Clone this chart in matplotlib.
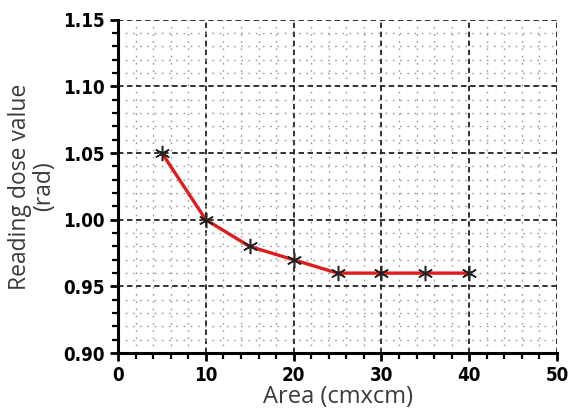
import matplotlib.pyplot as plt
from matplotlib.ticker import MultipleLocator

# data
area = [5, 10, 15, 20, 25, 30, 35, 40]
dose = [1.05, 1.00, 0.98, 0.97, 0.96, 0.96, 0.96, 0.96]

fig = plt.figure(figsize=(5.76, 4.13), dpi=100)
ax = fig.add_axes([0.205, 0.145, 0.762, 0.807])

ax.plot(area, dose, color="#e01b1b", linewidth=2.4, zorder=3)
ax.plot(area, dose, linestyle="none", marker=(6, 2, 0), markersize=11,
        markeredgecolor="#222222", markeredgewidth=1.1, zorder=4)

ax.set_xlim(0, 50)
ax.set_ylim(0.90, 1.15)
ax.xaxis.set_major_locator(MultipleLocator(10))
ax.xaxis.set_minor_locator(MultipleLocator(2))
ax.yaxis.set_major_locator(MultipleLocator(0.05))
ax.yaxis.set_minor_locator(MultipleLocator(0.01))

ax.grid(which="major", color="#222222", linestyle=(0, (3, 2)), linewidth=1.3)
ax.grid(which="minor", color="#9a9a9a", linestyle=(0, (1.2, 4)), linewidth=1.0)

for s in ["top", "right"]:
    ax.spines[s].set_visible(False)
for s in ["left", "bottom"]:
    ax.spines[s].set_linewidth(2.2)

ax.tick_params(which="major", length=6, width=2, direction="out")
ax.tick_params(which="minor", length=4, width=1.6, direction="out")

ax.set_xticks([0, 10, 20, 30, 40, 50])
ax.set_xticklabels(["0", "10", "20", "30", "40", "50"])
ax.set_yticks([0.90, 0.95, 1.00, 1.05, 1.10, 1.15])
ax.set_yticklabels(["0.90", "0.95", "1.00", "1.05", "1.10", "1.15"])
for lab in ax.get_xticklabels() + ax.get_yticklabels():
    lab.set_fontfamily("DejaVu Sans")
    lab.set_fontstretch("condensed")
    lab.set_fontweight("heavy")
    lab.set_fontsize(13.5)

ax.set_xlabel("Area (cmxcm)", fontsize=17, family="Open Sans",
              color="#3a3a3a", labelpad=0)
ax.set_ylabel("Reading dose value\n(rad)", fontsize=16.5, family="Open Sans",
              color="#3a3a3a", labelpad=5, linespacing=1.0)

fig.savefig("out.png", dpi=100)
